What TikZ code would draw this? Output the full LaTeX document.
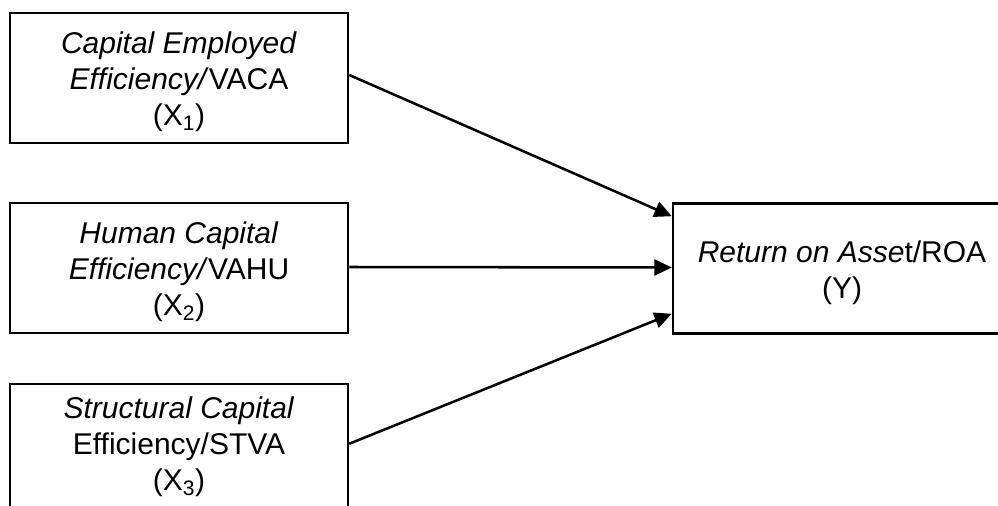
\documentclass[tikz,border=0pt]{standalone}
\usepackage{fontspec}
\setmainfont{Liberation Sans}
\usetikzlibrary{arrows.meta,calc}
\begin{document}
\begin{tikzpicture}[x=0.75pt,y=-0.75pt,
  box/.style={draw, line width=1.9pt, minimum width=253.5pt, minimum height=97.5pt, inner sep=0pt},
  txt/.style={font=\fontsize{22.5}{27}\selectfont, align=center, inner sep=0pt},
  arr/.style={line width=1.9pt, -{Triangle[length=13pt,width=12pt]}}]
\useasboundingbox (0,0) rectangle (998,506);
\clip (0,0) rectangle (998,506);
\node[box] (x1) at (179,78) {};
\node[txt] (x1t) at (179,82) {\textit{Capital Employed}\\\textit{Efficiency/}VACA\\(X\textsubscript{1})};
\node[box] (x2) at (179,268) {};
\node[txt] (x2t) at (179,272) {\textit{Human Capital}\\\textit{Efficiency/}VAHU\\(X\textsubscript{2})};
\node[box] (x3) at (179,449) {};
\node[txt] (x3t) at (179,447) {\textit{Structural Capital}\\Efficiency/STVA\\(X\textsubscript{3})};
\node[box] (y) at (842,268.5) {};
\node[txt] (yt) at (842,273) {\textit{Return on Asse}t/ROA\\(Y)};
\draw[arr] ($(x1.east)+(0,-3)$) -- ($(y.north west)+(0,14)$);
\draw[arr] ($(x2.east)+(0,-1)$) -- ($(y.west)+(0,-1)$);
\draw[arr] ($(x3.north east)+(0,61)$) -- ($(y.south west)+(0,-21)$);
\end{tikzpicture}
\end{document}
